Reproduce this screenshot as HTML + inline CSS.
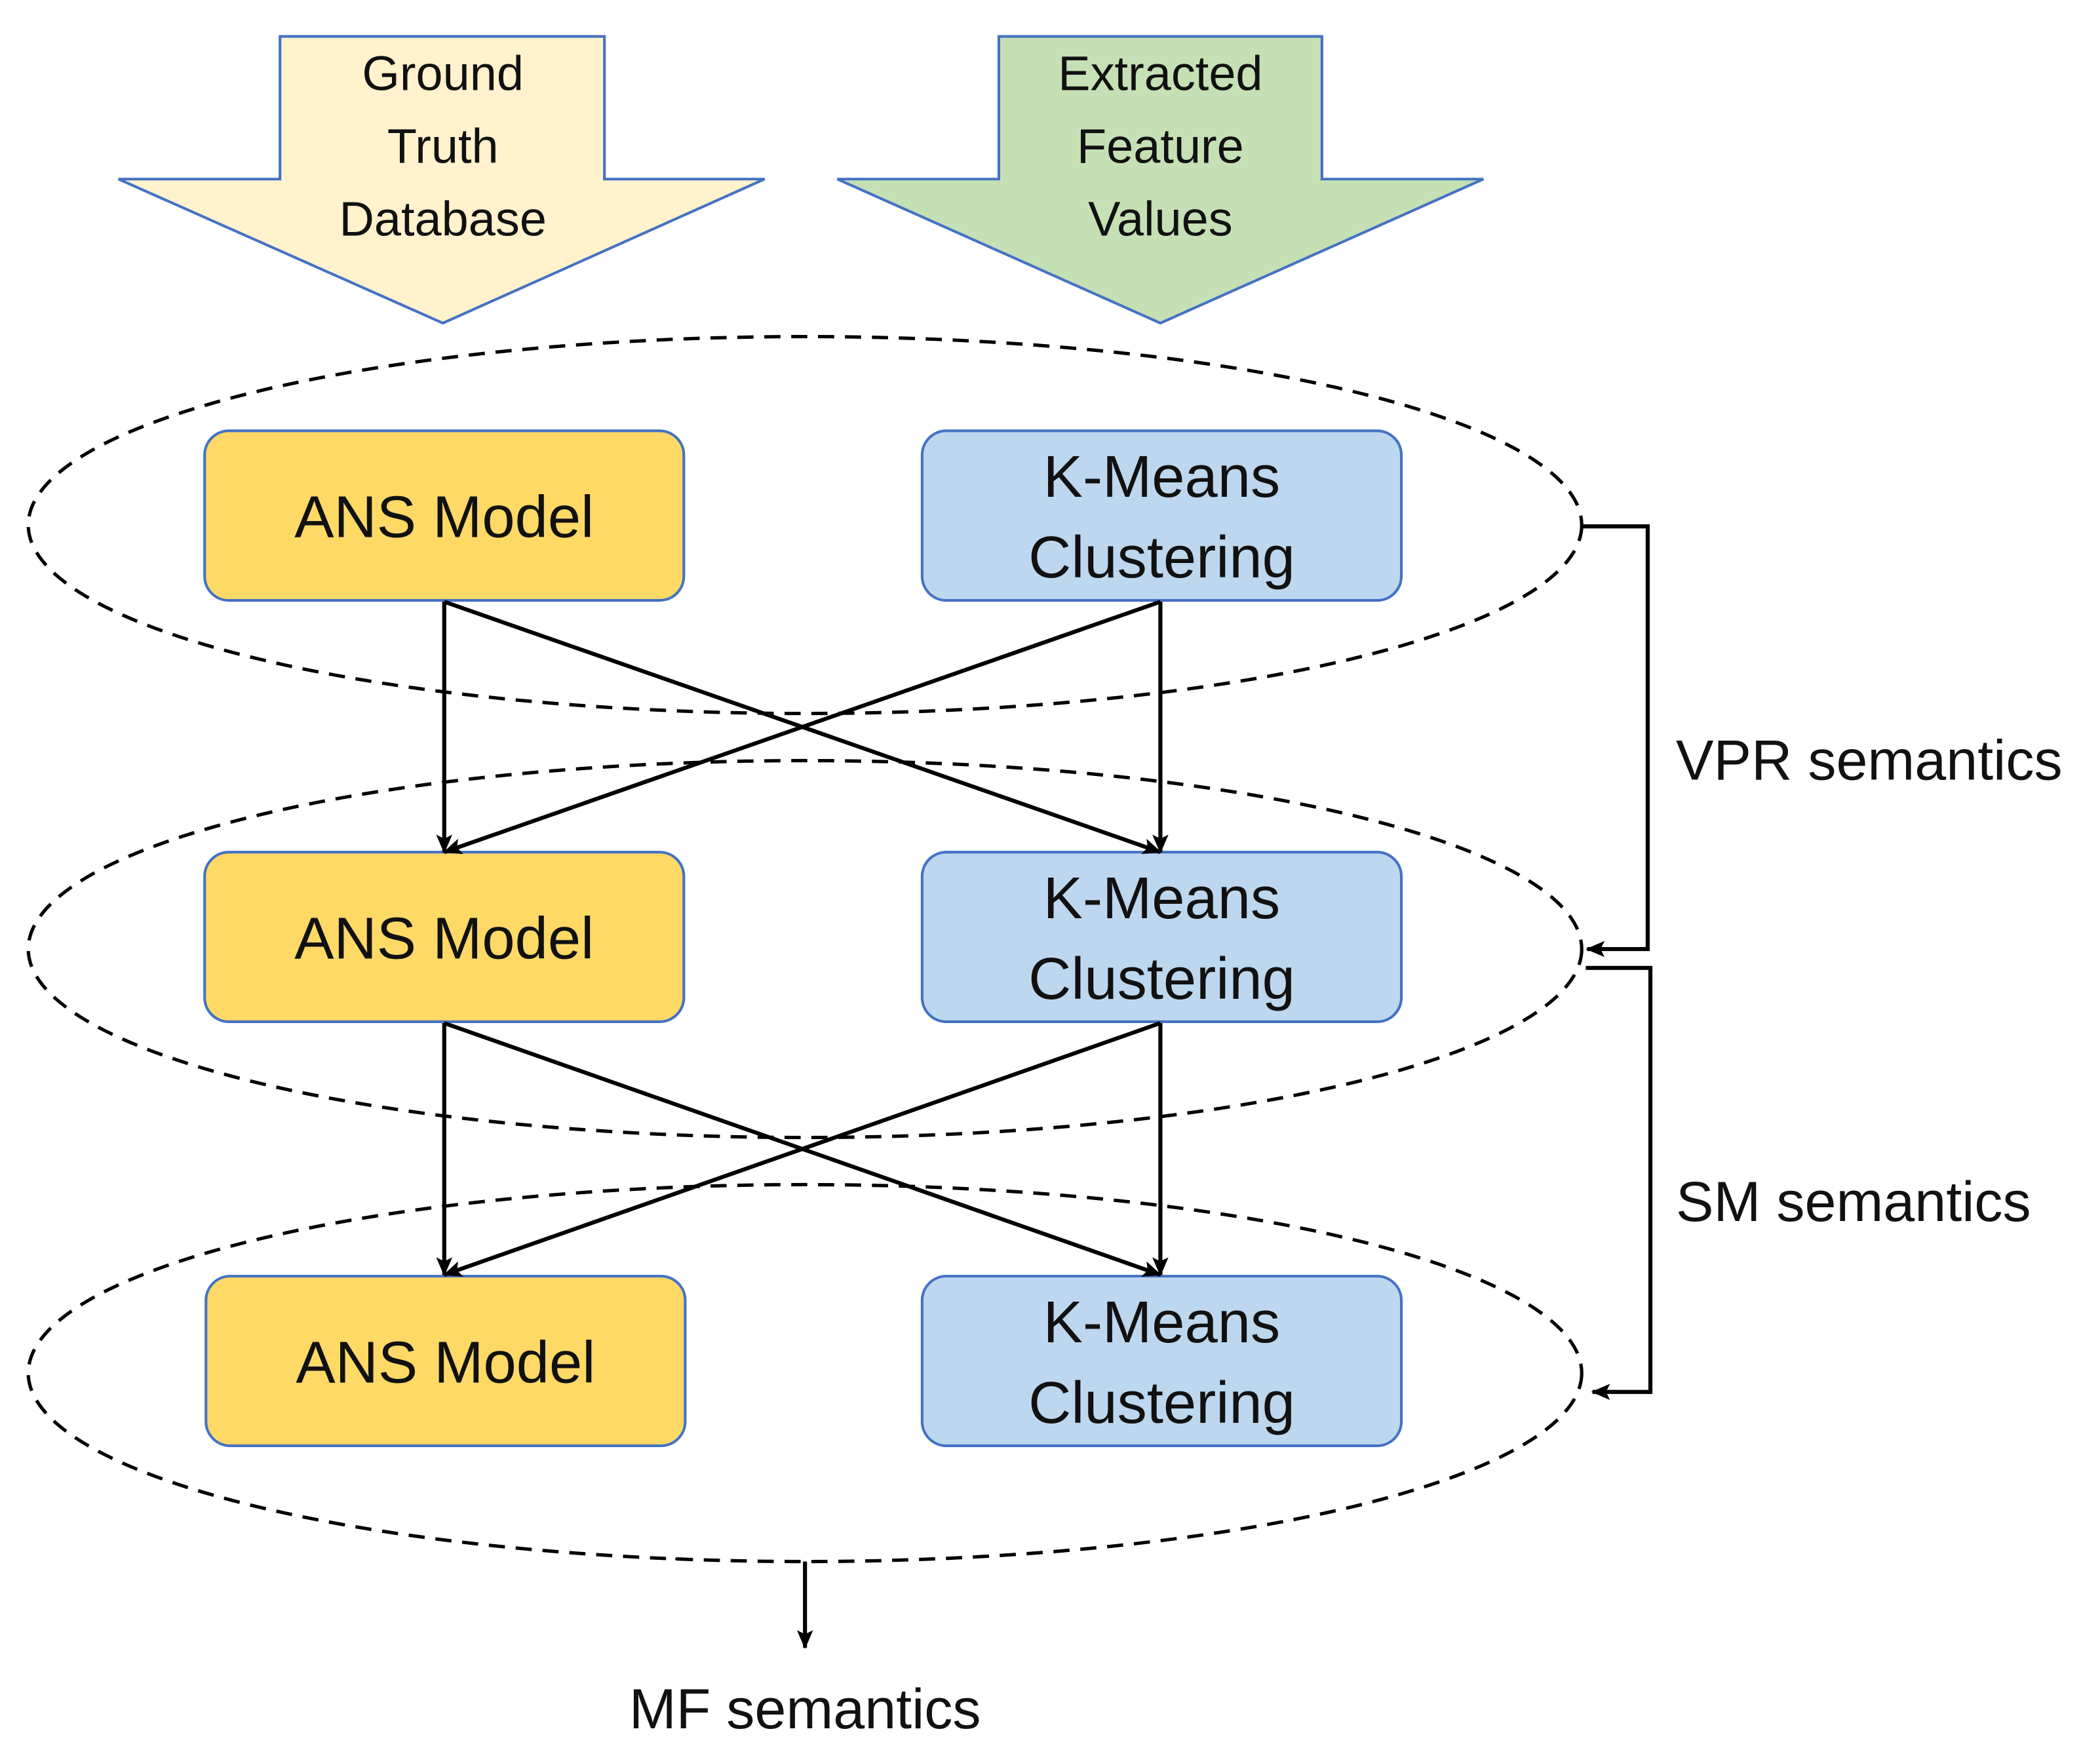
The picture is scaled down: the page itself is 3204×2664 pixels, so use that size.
<!DOCTYPE html>
<html><head><meta charset="utf-8"><style>
html,body{margin:0;padding:0;background:#fff;}
svg{display:block;}
text{font-family:"Liberation Sans",sans-serif;fill:#111;}
</style></head><body>
<svg width="3204" height="2664" viewBox="0 0 1560 1297" xmlns="http://www.w3.org/2000/svg">
<defs>
<marker id="ah" markerWidth="14" markerHeight="14" refX="13" refY="6" orient="auto" markerUnits="userSpaceOnUse">
<path d="M0,0 L14,6 L0,12 L3,6 Z" fill="#000"/></marker>
</defs>
<polygon points="208,27 449,27 449,133 568,133 329,240 88,133 208,133" fill="#fff2cc" stroke="#4472c4" stroke-width="2"/>
<polygon points="742,27 982,27 982,133 1102,133 862,240 622,133 742,133" fill="#c5e0b4" stroke="#4472c4" stroke-width="2"/>
<g font-size="36" text-anchor="middle">
<text x="329" y="67">Ground</text><text x="329" y="121">Truth</text><text x="329" y="175">Database</text>
<text x="862" y="67">Extracted</text><text x="862" y="121">Feature</text><text x="862" y="175">Values</text>
</g>
<g fill="none" stroke="#000" stroke-width="2.5" stroke-dasharray="12,8">
<ellipse cx="598" cy="390" rx="577" ry="140"/>
<ellipse cx="598" cy="705" rx="577" ry="140"/>
<ellipse cx="598" cy="1020" rx="577" ry="140"/>
</g>
<g stroke="#4472c4" stroke-width="2">
<rect x="152" y="320" width="356" height="126" rx="18" fill="#ffd966"/>
<rect x="685" y="320" width="356" height="126" rx="18" fill="#bdd7ee"/>
<rect x="152" y="633" width="356" height="126" rx="18" fill="#ffd966"/>
<rect x="685" y="633" width="356" height="126" rx="18" fill="#bdd7ee"/>
<rect x="153" y="948" width="356" height="126" rx="18" fill="#ffd966"/>
<rect x="685" y="948" width="356" height="126" rx="18" fill="#bdd7ee"/>
</g>
<g font-size="44" text-anchor="middle">
<text x="330" y="399">ANS Model</text>
<text x="863" y="369">K-Means</text><text x="863" y="429">Clustering</text>
<text x="330" y="712">ANS Model</text>
<text x="863" y="682">K-Means</text><text x="863" y="742">Clustering</text>
<text x="331" y="1027">ANS Model</text>
<text x="863" y="997">K-Means</text><text x="863" y="1057">Clustering</text>
</g>
<g stroke="#000" stroke-width="3" marker-end="url(#ah)" fill="none">
<line x1="330" y1="447" x2="330" y2="633"/>
<line x1="330" y1="447" x2="862" y2="633"/>
<line x1="862" y1="447" x2="862" y2="633"/>
<line x1="862" y1="447" x2="330" y2="633"/>
<line x1="330" y1="760" x2="330" y2="947"/>
<line x1="330" y1="760" x2="862" y2="947"/>
<line x1="862" y1="760" x2="862" y2="947"/>
<line x1="862" y1="760" x2="330" y2="947"/>
<polyline points="1176,391 1224,391 1224,705 1179,705"/>
<polyline points="1178,719 1226,719 1226,1034 1183,1034"/>
<line x1="598" y1="1160" x2="598" y2="1224"/>
</g>
<g font-size="42">
<text x="1245" y="579">VPR semantics</text>
<text x="1245" y="907">SM semantics</text>
<text x="598" y="1284" text-anchor="middle">MF semantics</text>
</g>
</svg>
</body></html>
